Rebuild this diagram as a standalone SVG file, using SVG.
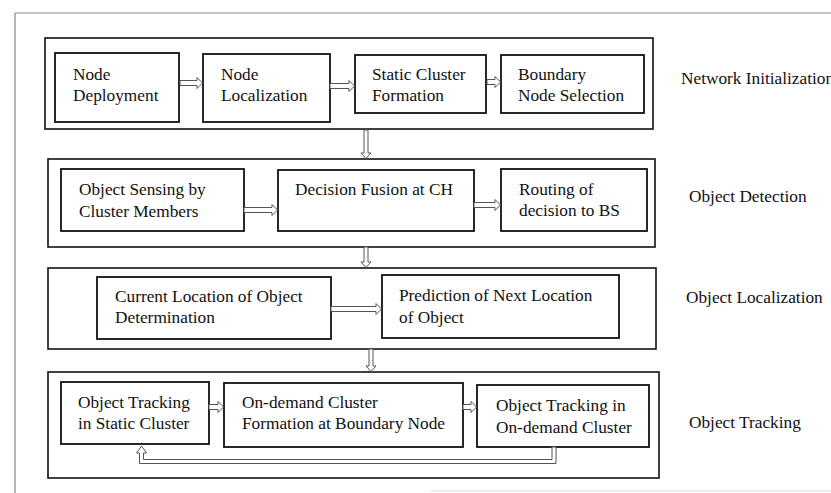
<svg xmlns="http://www.w3.org/2000/svg" width="831" height="493" viewBox="0 0 831 493">
<style>
.stage{fill:none;stroke:#111;stroke-width:1.6}
.box{fill:#fff;stroke:#111;stroke-width:1.8}
.t{font-family:'Liberation Serif','Times New Roman',serif;font-size:17.3px;fill:#111}
.arr{fill:#fff;stroke:#555;stroke-width:1}
.frame{stroke:#888;stroke-width:1.2;fill:none}
</style>
<rect width="831" height="493" fill="#fff"/>
<g id="frame">
<line class="frame" x1="15" y1="13" x2="831" y2="13"/>
<line class="frame" x1="15" y1="13" x2="15" y2="493"/>
<line x1="430" y1="491" x2="831" y2="491" stroke="#ddd" stroke-width="1"/>
</g>
<g id="stage-network-init">
<rect class="stage" x="45" y="38" width="608" height="91"/>
<text class="t" x="681" y="84">Network Initialization</text>
</g>
<g id="node-deployment">
<rect class="box" x="55" y="53" width="124" height="69"/>
<text class="t" x="73" y="80">Node</text>
<text class="t" x="73" y="101">Deployment</text>
</g>
<g id="node-localization">
<rect class="box" x="203" y="54" width="127" height="68"/>
<text class="t" x="221" y="80">Node</text>
<text class="t" x="221" y="101">Localization</text>
</g>
<g id="static-cluster">
<rect class="box" x="355" y="55" width="131" height="58"/>
<text class="t" x="372" y="80">Static Cluster</text>
<text class="t" x="372" y="101">Formation</text>
</g>
<g id="boundary-node">
<rect class="box" x="501" y="55" width="143" height="58"/>
<text class="t" x="518" y="80">Boundary</text>
<text class="t" x="518" y="101">Node Selection</text>
</g>
<g id="stage-object-detection">
<rect class="stage" x="48" y="159" width="607" height="88"/>
<text class="t" x="689" y="202">Object Detection</text>
</g>
<g id="object-sensing">
<rect class="box" x="61" y="169" width="183" height="62"/>
<text class="t" x="79" y="195">Object Sensing by</text>
<text class="t" x="79" y="217">Cluster Members</text>
</g>
<g id="decision-fusion">
<rect class="box" x="278" y="170" width="196" height="61"/>
<text class="t" x="295" y="195">Decision Fusion at CH</text>
</g>
<g id="routing">
<rect class="box" x="501" y="169" width="146" height="62"/>
<text class="t" x="519" y="195">Routing of</text>
<text class="t" x="519" y="216">decision to BS</text>
</g>
<g id="stage-object-localization">
<rect class="stage" x="48" y="268" width="608" height="81"/>
<text class="t" x="686" y="303">Object Localization</text>
</g>
<g id="current-location">
<rect class="box" x="97" y="277" width="234" height="62"/>
<text class="t" x="115" y="302">Current Location of Object</text>
<text class="t" x="115" y="323">Determination</text>
</g>
<g id="prediction">
<rect class="box" x="382" y="275" width="237" height="63"/>
<text class="t" x="399" y="301">Prediction of Next Location</text>
<text class="t" x="399" y="323">of Object</text>
</g>
<g id="stage-object-tracking">
<rect class="stage" x="48" y="372" width="611" height="106"/>
<text class="t" x="689" y="428">Object Tracking</text>
</g>
<g id="tracking-static">
<rect class="box" x="61" y="382" width="148" height="62"/>
<text class="t" x="78" y="408">Object Tracking</text>
<text class="t" x="78" y="429">in Static Cluster</text>
</g>
<g id="ondemand-formation">
<rect class="box" x="224" y="383" width="239" height="64"/>
<text class="t" x="242" y="408">On-demand Cluster</text>
<text class="t" x="242" y="429">Formation at Boundary Node</text>
</g>
<g id="tracking-ondemand">
<rect class="box" x="477" y="385" width="172" height="62"/>
<text class="t" x="496" y="411">Object Tracking in</text>
<text class="t" x="496" y="433">On-demand Cluster</text>
</g>
<g id="connectors">
<polygon class="arr" points="180,80.5 197,80.5 197,77.5 202.5,83 197,88.5 197,85.5 180,85.5"/>
<polygon class="arr" points="330,83.5 349,83.5 349,80.5 354.5,86 349,91.5 349,88.5 330,88.5"/>
<polygon class="arr" points="487,79.5 495,79.5 495,76.5 500.5,82 495,87.5 495,84.5 487,84.5"/>
<polygon class="arr" points="244,207.5 272,207.5 272,204.5 277.5,210 272,215.5 272,212.5 244,212.5"/>
<polygon class="arr" points="474,202.5 495,202.5 495,199.5 500.5,205 495,210.5 495,207.5 474,207.5"/>
<polygon class="arr" points="331,306.5 376,306.5 376,303.5 381.5,309 376,314.5 376,311.5 331,311.5"/>
<polygon class="arr" points="209,404.5 218,404.5 218,401.5 223.5,407 218,412.5 218,409.5 209,409.5"/>
<polygon class="arr" points="463,404.5 471,404.5 471,401.5 476.5,407 471,412.5 471,409.5 463,409.5"/>
<polygon class="arr" points="364,130 364,153 361,153 366,158.5 371,153 368,153 368,130"/>
<polygon class="arr" points="364,247 364,262 361,262 366,267.5 371,262 368,262 368,247"/>
<polygon class="arr" points="369,349 369,366 366,366 371,371.5 376,366 373,366 373,349"/>
<polygon class="arr" points="552,447 552,459.5 143.5,459.5 143.5,453 146.5,453 141.5,446 136.5,453 139.5,453 139.5,463.5 556,463.5 556,447"/>
</g>
</svg>
